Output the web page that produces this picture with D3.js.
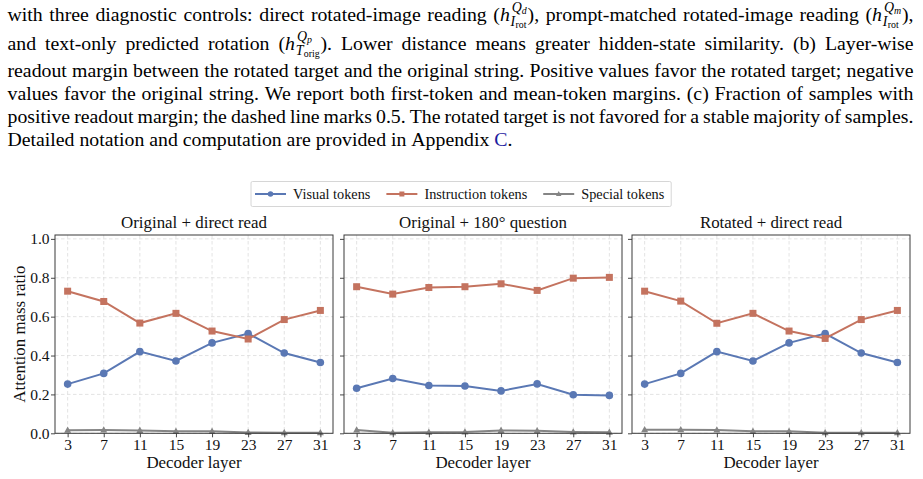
<!DOCTYPE html>
<html><head><meta charset="utf-8">
<script src="https://cdn.jsdelivr.net/npm/d3@7"></script>
<style>html,body{margin:0;padding:0;background:#fff;} svg{display:block;font-family:"Liberation Serif","Times New Roman",serif;}</style>
</head><body>
<svg id="c" width="923" height="479"></svg>
<script>
// ---------------- data ----------------
const layers = [3, 7, 11, 15, 19, 23, 27, 31];
const yTickValues = [0, 0.2, 0.4, 0.6, 0.8, 1.0];
const panelTitles = ["Original + direct read", "Original + 180° question", "Rotated + direct read"];
const seriesNames = ["Visual tokens", "Instruction tokens", "Special tokens"];

const visualOrigDirect  = [0.253, 0.308, 0.420, 0.372, 0.465, 0.513, 0.413, 0.364];
const instrOrigDirect   = [0.731, 0.678, 0.567, 0.617, 0.526, 0.485, 0.585, 0.632];
const specialOrigDirect = [0.016, 0.017, 0.015, 0.010, 0.010, 0.004, 0.003, 0.003];

const visualOrig180  = [0.232, 0.282, 0.246, 0.243, 0.218, 0.254, 0.198, 0.195];
const instrOrig180   = [0.754, 0.716, 0.750, 0.754, 0.769, 0.735, 0.798, 0.802];
const specialOrig180 = [0.017, 0.003, 0.005, 0.007, 0.015, 0.013, 0.007, 0.005];

const visualRotDirect  = [0.253, 0.308, 0.420, 0.372, 0.465, 0.513, 0.413, 0.364];
const instrRotDirect   = [0.731, 0.680, 0.566, 0.617, 0.526, 0.488, 0.585, 0.632];
const specialRotDirect = [0.018, 0.018, 0.017, 0.010, 0.010, 0.003, 0.003, 0.003];

const captionLines = [
  "with three diagnostic controls: direct rotated-image reading (@Qd), prompt-matched rotated-image reading (@Qm),",
  "and text-only predicted rotation (@Qp). Lower distance means greater hidden-state similarity. (b) Layer-wise",
  "readout margin between the rotated target and the original string. Positive values favor the rotated target; negative",
  "values favor the original string. We report both first-token and mean-token margins. (c) Fraction of samples with",
  "positive readout margin; the dashed line marks 0.5. The rotated target is not favored for a stable majority of samples.",
  "Detailed notation and computation are provided in Appendix #C#."
];
const mathSymbols = {
  Qd: {base: "h", sup: "Q", supSub: "d", sub: "I", subSub: "rot"},
  Qm: {base: "h", sup: "Q", supSub: "m", sub: "I", subSub: "rot"},
  Qp: {base: "h", sup: "Q", supSub: "p", sub: "T", subSub: "orig"}
};

// ---------------- styles ----------------
const colors = ["#5a78b4", "#c4735f", "#858585"];
const markers = ["circle", "square", "triangle"];
const svg = d3.select("#c");

// ---------------- caption ----------------
const FS = 19.8, FS1 = 13.9, FS2 = 9.9;
const capLeft = 7.5, capRight = 913.5;
const capBaselines = [20.5, 49.5, 77, 100, 123, 146];

function seg(g, x, y, s, fs, it, fill) {
  const t = g.append("text").attr("x", x).attr("y", y).attr("font-size", fs)
    .attr("font-style", it ? "italic" : "normal").attr("fill", fill || "#000").text(s);
  return t.node().getComputedTextLength();
}
function drawWord(g, x0, y, word) {
  let x = x0;
  const parts = word.split(/(@\w+|#\w+#)/).filter(s => s.length);
  parts.forEach(p => {
    if (p[0] === "@") {
      const m = mathSymbols[p.slice(1)];
      x += seg(g, x, y, m.base, FS, true) + 0.8;
      let su = seg(g, x + 1.2, y - 8.8, m.sup, FS1, true);
      su += seg(g, x + 1.2 + su, y - 6.6, m.supSub, FS2, true) + 1.2;
      let sb = seg(g, x, y + 5, m.sub, FS1, true);
      sb += seg(g, x + sb + 0.3, y + 7, m.subSub, FS2, false) + 0.3;
      x += Math.max(su, sb) + 0.8;
    } else if (p[0] === "#") {
      x += seg(g, x, y, p.slice(1, -1), FS, false, "#1c1ca0");
    } else {
      x += seg(g, x, y, p, FS, false);
    }
  });
  return x - x0;
}
const cap = svg.append("g").attr("class", "caption");
captionLines.forEach((line, li) => {
  const words = line.split(" ");
  const y = capBaselines[li];
  const gs = words.map(w => {
    const g = cap.append("g");
    const w0 = drawWord(g, 0, y, w);
    return {g, w: w0};
  });
  const total = d3.sum(gs, d => d.w);
  const justify = li < captionLines.length - 1;
  const gap = justify ? Math.max(2.5, (capRight - capLeft - total) / (gs.length - 1)) : FS * 0.25;
  let x = capLeft;
  gs.forEach(d => { d.g.attr("transform", `translate(${x},0)`); x += d.w + gap; });
});

// ---------------- panels ----------------
const panelData = [
  [visualOrigDirect, instrOrigDirect, specialOrigDirect],
  [visualOrig180, instrOrig180, specialOrig180],
  [visualRotDirect, instrRotDirect, specialRotDirect]
];
const panelLeft = [55, 344, 632], panelW = 278;
const plotTop = 235, plotBottom = 433.3;
const y = d3.scaleLinear().domain([0, 1.02]).range([plotBottom, plotTop]);

function drawMarker(g, type, cx, cy, s, color) {
  if (type === "circle") {
    g.append("circle").attr("cx", cx).attr("cy", cy).attr("r", s / 2).attr("fill", color);
  } else if (type === "square") {
    g.append("rect").attr("x", cx - s / 2).attr("y", cy - s / 2).attr("width", s).attr("height", s).attr("fill", color);
  } else {
    const h = s * 0.9;
    g.append("path").attr("d", `M${cx},${cy - h * 0.6}L${cx + s / 2},${cy + h * 0.4}L${cx - s / 2},${cy + h * 0.4}Z`).attr("fill", color);
  }
}
const markerSize = [7.6, 7, 7];

panelData.forEach((series, pi) => {
  const L = panelLeft[pi];
  const x = d3.scaleLinear().domain([1.6, 32.4]).range([L, L + panelW]);
  const g = svg.append("g");
  // grid
  g.selectAll(".gx").data(layers).join("line")
    .attr("x1", d => x(d)).attr("x2", d => x(d)).attr("y1", plotTop).attr("y2", plotBottom)
    .attr("stroke", "#dcdcdc").attr("stroke-width", 0.8).attr("stroke-dasharray", "3.5,2.5");
  g.selectAll(".gy").data(yTickValues).join("line")
    .attr("x1", L).attr("x2", L + panelW).attr("y1", d => y(d)).attr("y2", d => y(d))
    .attr("stroke", "#dcdcdc").attr("stroke-width", 0.8).attr("stroke-dasharray", "3.5,2.5");
  // series
  series.forEach((vals, si) => {
    const pts = layers.map((l, i) => [x(l), y(vals[i])]);
    g.append("path").attr("d", d3.line()(pts)).attr("fill", "none")
      .attr("stroke", colors[si]).attr("stroke-width", 2);
    pts.forEach(p => drawMarker(g, markers[si], p[0], p[1], markerSize[si], colors[si]));
  });
  // axes
  const ax = g.append("g").attr("transform", `translate(0,${plotBottom})`)
    .call(d3.axisBottom(x).tickValues(layers).tickSize(4).tickPadding(2).tickFormat(d3.format("d")));
  const ay = g.append("g").attr("transform", `translate(${L},0)`)
    .call(d3.axisLeft(y).tickValues(yTickValues).tickSize(4).tickPadding(1.5)
      .tickFormat(pi === 0 ? d3.format(".1f") : () => ""));
  [ax, ay].forEach(a => {
    a.select(".domain").remove();
    a.selectAll(".tick line").attr("stroke", "#333").attr("stroke-width", 0.9);
    a.selectAll(".tick text").attr("font-family", '"Liberation Serif","Times New Roman",serif')
      .attr("font-size", 15.5).attr("fill", "#111");
  });
  // spines
  g.append("rect").attr("x", L).attr("y", plotTop).attr("width", panelW).attr("height", plotBottom - plotTop)
    .attr("fill", "none").attr("stroke", "#3a3a3a").attr("stroke-width", 1);
  // title & xlabel
  g.append("text").attr("x", L + panelW / 2).attr("y", 228).attr("text-anchor", "middle")
    .attr("font-size", 16.9).attr("fill", "#111").text(panelTitles[pi]);
  g.append("text").attr("x", L + panelW / 2).attr("y", 468).attr("text-anchor", "middle")
    .attr("font-size", 16.9).attr("fill", "#111").text("Decoder layer");
});
// y label
svg.append("text").attr("transform", `translate(25,${(plotTop + plotBottom) / 2}) rotate(-90)`)
  .attr("text-anchor", "middle").attr("font-size", 16.9).attr("fill", "#111").text("Attention mass ratio");

// ---------------- legend ----------------
const leg = svg.append("g");
const legBox = leg.append("rect").attr("x", 251).attr("y", 181.5).attr("width", 419).attr("height", 25)
  .attr("fill", "#fff").attr("stroke", "#d6d6d6").attr("stroke-width", 1).attr("rx", 1.5);
let lx = 255;
seriesNames.forEach((name, i) => {
  leg.append("line").attr("x1", lx).attr("x2", lx + 31).attr("y1", 194).attr("y2", 194)
    .attr("stroke", colors[i]).attr("stroke-width", 2);
  drawMarker(leg, markers[i], lx + 15.5, 194, [5.5, 5, 5.5][i], colors[i]);
  const t = leg.append("text").attr("x", lx + 38).attr("y", 199).attr("font-size", 14.3).attr("fill", "#111").text(name);
  lx += 38 + t.node().getComputedTextLength() + 16;
});
legBox.attr("width", lx - 16 + 7 - 251);
</script>
</body></html>
